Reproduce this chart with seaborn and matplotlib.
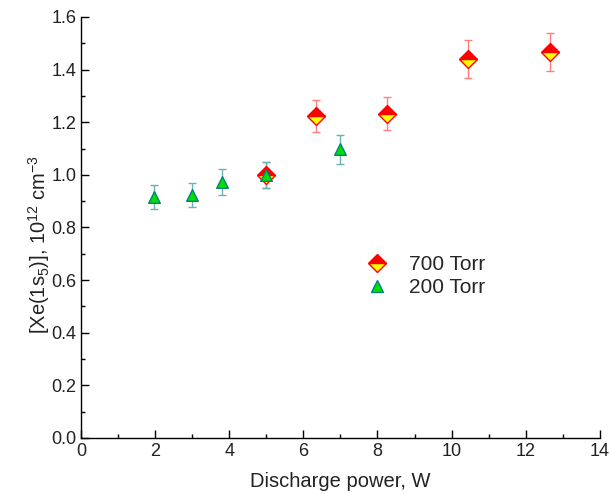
import matplotlib
matplotlib.use("Agg")
import matplotlib.pyplot as plt
import seaborn as sns
import pandas as pd
from matplotlib.ticker import MultipleLocator
from matplotlib.lines import Line2D

# Data
power_700 = [5.0, 6.35, 8.25, 10.45, 12.65]
xe_700 = [1.00, 1.225, 1.233, 1.44, 1.467]
err_700 = [0.05, 0.061, 0.062, 0.072, 0.074]

power_200 = [1.97, 3.0, 3.8, 5.0, 7.0]
xe_200 = [0.916, 0.924, 0.973, 1.0, 1.098]
err_200 = [0.047, 0.046, 0.049, 0.05, 0.055]

sns.set_theme(style="ticks")
plt.rcParams['font.family'] = ['Liberation Sans', 'DejaVu Sans']
plt.rcParams['mathtext.default'] = 'regular'

fig = plt.figure(figsize=(6.09, 4.94), dpi=100)
ax = fig.add_axes([0.133, 0.1134, 0.852, 0.8522])

df200 = pd.DataFrame({"power": power_200, "xe": xe_200})

ax.errorbar(power_700, xe_700, yerr=err_700, fmt='none', ecolor='#ff7f7f',
            elinewidth=1.0, capsize=3, capthick=1.0, zorder=2)
ax.errorbar(power_200, xe_200, yerr=err_200, fmt='none', ecolor='#66b3b3',
            elinewidth=1.0, capsize=3, capthick=1.0, zorder=2)

ax.plot(power_700, xe_700, linestyle='none', marker='D', markersize=9,
        fillstyle='top', markerfacecolor='#ff0000', markerfacecoloralt='#ffff00',
        markeredgecolor='#ff0000', markeredgewidth=1.0, zorder=3)
sns.scatterplot(data=df200, x="power", y="xe", marker='^', s=70,
                color='#00e000', edgecolor='#008080', linewidth=1.0, ax=ax,
                zorder=4)

ax.set_xlim(0, 14)
ax.set_ylim(0, 1.6)
ax.xaxis.set_major_locator(MultipleLocator(2))
ax.xaxis.set_minor_locator(MultipleLocator(1))
ax.yaxis.set_major_locator(MultipleLocator(0.2))
ax.yaxis.set_minor_locator(MultipleLocator(0.1))
ax.yaxis.set_major_formatter(matplotlib.ticker.FormatStrFormatter('%.1f'))
ax.tick_params(which='major', direction='in', length=6, width=1, labelsize=13,
               color='black', labelcolor='#222222')
ax.tick_params(which='minor', direction='in', length=3, width=1, color='black')
sns.despine(ax=ax)
for s in ['left', 'bottom']:
    ax.spines[s].set_color('black')
    ax.spines[s].set_linewidth(1.0)

ax.set_xlabel("Discharge power, W", fontsize=14.5, color='#222222', labelpad=9)
ax.set_ylabel("[Xe(1s$_5$)], 10$^{12}$ cm$^{-3}$", fontsize=14.5, color='#222222',
              labelpad=-1, y=0.46)

h700 = Line2D([], [], linestyle='none', marker='D', markersize=9, fillstyle='top',
              markerfacecolor='#ff0000', markerfacecoloralt='#ffff00',
              markeredgecolor='#ff0000')
h200 = Line2D([], [], linestyle='none', marker='^', markersize=8,
              markerfacecolor='#00e000', markeredgecolor='#008080')
ax.legend([h700, h200], ["700 Torr", "200 Torr"], frameon=False, fontsize=15,
          loc='center left', bbox_to_anchor=(0.495, 0.385), handletextpad=0.5,
          labelspacing=0.2)

fig.savefig("out.png", dpi=100)
